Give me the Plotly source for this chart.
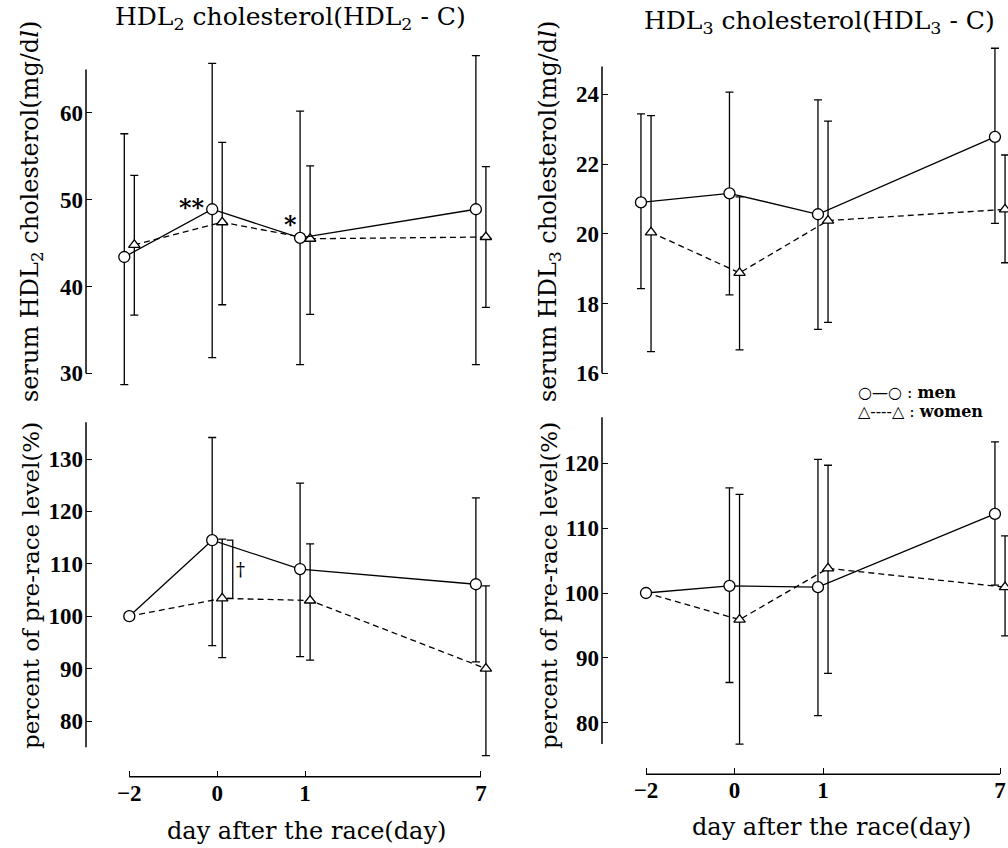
import plotly.graph_objects as go

# ---------------- data ----------------
day_labels = ["\u22122", "0", "1", "7"]      # tick labels (day after the race)
day_pos = [0, 1, 2, 4]                       # category positions on the axis (day 7 spaced wider)

# HDL2 cholesterol (mg/dl): mean, upper and lower error
hdl2_men = [43.4, 48.9, 45.6, 48.9]
hdl2_men_up = [14.2, 16.8, 14.6, 17.7]
hdl2_men_dn = [14.7, 17.1, 14.6, 17.9]
hdl2_women = [44.8, 47.4, 45.5, 45.7]
hdl2_women_up = [8.0, 9.2, 8.4, 8.1]
hdl2_women_dn = [8.1, 9.5, 8.7, 8.1]

# HDL3 cholesterol (mg/dl)
hdl3_men = [20.90, 21.16, 20.56, 22.78]
hdl3_men_up = [2.54, 2.90, 3.28, 2.54]
hdl3_men_dn = [2.47, 2.91, 3.30, 2.48]
hdl3_women = [20.04, 18.88, 20.38, 20.70]
hdl3_women_up = [3.35, 2.18, 2.85, 1.56]
hdl3_women_dn = [3.42, 2.21, 2.92, 1.53]

# percent of pre-race level, HDL2-C
pct2_men = [100, 114.5, 109.0, 106.1]
pct2_men_up = [None, 19.6, 16.4, 16.5]
pct2_men_dn = [None, 20.1, 16.7, 14.8]
pct2_women = [100, 103.4, 103.0, 90.0]
pct2_women_up = [None, 11.3, 10.8, 15.8]
pct2_women_dn = [None, 11.3, 11.4, 16.6]

# percent of pre-race level, HDL3-C
pct3_men = [100, 101.1, 100.9, 112.2]
pct3_men_up = [None, 15.1, 19.7, 11.1]
pct3_men_dn = [None, 14.9, 19.8, 11.0]
pct3_women = [100, 95.9, 103.8, 100.9]
pct3_women_up = [None, 19.3, 15.9, 7.9]
pct3_women_dn = [None, 19.2, 16.2, 7.5]

# axis extents (drawn spine) and ticks
hdl2_axis = (30, 65); hdl2_ticks = [30, 40, 50, 60]
hdl3_axis = (16, 24.8); hdl3_ticks = [16, 18, 20, 22, 24]
pct2_axis = (75, 137); pct2_ticks = [80, 90, 100, 110, 120, 130]
pct3_axis = (76.7, 127.1); pct3_ticks = [80, 90, 100, 110, 120]

# ---------------- layout helpers ----------------
W, H = 1008, 848
SERIF = "DejaVu Serif"
TICKFONT = dict(family="Liberation Serif", size=23, color="black", weight="bold")


def px_x(p):
    return p / W


def px_y(p):
    return 1 - p / H


def lin_range(v_a, p_a, v_b, p_b, p_lo, p_hi):
    """value range for a domain spanning pixels p_lo..p_hi, given two (value, pixel) anchors"""
    k = (v_b - v_a) / (p_b - p_a)
    return [v_a + (p_lo - p_a) * k, v_a + (p_hi - p_a) * k]


fig = go.Figure()

M_OFF, W_OFF = -0.057, 0.057

panels = [
    ("x", "y", hdl2_men, hdl2_men_up, hdl2_men_dn, hdl2_women, hdl2_women_up, hdl2_women_dn, False),
    ("x2", "y2", pct2_men, pct2_men_up, pct2_men_dn, pct2_women, pct2_women_up, pct2_women_dn, True),
    ("x3", "y3", hdl3_men, hdl3_men_up, hdl3_men_dn, hdl3_women, hdl3_women_up, hdl3_women_dn, False),
    ("x4", "y4", pct3_men, pct3_men_up, pct3_men_dn, pct3_women, pct3_women_up, pct3_women_dn, True),
]

for xa, ya, m, mu, md, wv, wu, wd, base in panels:
    xm = [p + (0 if (base and i == 0) else M_OFF) for i, p in enumerate(day_pos)]
    xw = [p + (0 if (base and i == 0) else W_OFF) for i, p in enumerate(day_pos)]
    wsym = ["circle" if (base and i == 0) else "triangle-up" for i in range(len(day_pos))]
    fig.add_trace(go.Scatter(
        x=xw, y=wv, xaxis=xa, yaxis=ya, mode="lines+markers", showlegend=False,
        line=dict(color="black", width=1.3, dash="6px,4px"),
        marker=dict(symbol=wsym, size=10, color="white", line=dict(color="black", width=1.3)),
        error_y=dict(type="data", symmetric=False, array=wu, arrayminus=wd,
                     color="black", thickness=1.3, width=4),
    ))
    fig.add_trace(go.Scatter(
        x=xm, y=m, xaxis=xa, yaxis=ya, mode="lines+markers", showlegend=False,
        line=dict(color="black", width=1.3),
        marker=dict(symbol="circle", size=11, color="white", line=dict(color="black", width=1.3)),
        error_y=dict(type="data", symmetric=False, array=mu, arrayminus=md,
                     color="black", thickness=1.3, width=4),
    ))

# pixel geometry of the panels
L_YAX, R_YAX = 86, 602
L_X0, L_XK = 129.3, 87.9     # pixel of day -2 and pixels per position (left)
R_X0, R_XK = 646.0, 88.5     # right
TOP_DOM = (35, 395)
BOT_DOM = (415, 765)
L_XAX_Y, R_XAX_Y = 776.7, 774.3

lx_range = lin_range(0, L_X0, 1, L_X0 + L_XK, L_YAX, 510)
rx_range = lin_range(0, R_X0, 1, R_X0 + R_XK, R_YAX, 1008)

tl_yr = lin_range(60, 112.9, 30, 373.3, TOP_DOM[1], TOP_DOM[0])
bl_yr = lin_range(130, 459.0, 80, 721.0, BOT_DOM[1], BOT_DOM[0])
tr_yr = lin_range(24, 94.3, 16, 373.3, TOP_DOM[1], TOP_DOM[0])
br_yr = lin_range(120, 463.3, 80, 722.7, BOT_DOM[1], BOT_DOM[0])


def xdict(rng, dom, visible_axis=False, pos=None, anchor=None):
    d = dict(range=rng, domain=[px_x(dom[0]), px_x(dom[1])], showgrid=False, zeroline=False,
             showline=False, fixedrange=True)
    if visible_axis:
        d.update(tickmode="array", tickvals=day_pos, ticktext=day_labels, ticks="inside",
                 ticklen=6, tickwidth=1.3, tickcolor="black", tickfont=TICKFONT,
                 anchor="free", position=px_y(pos), showticklabels=True)
    else:
        d.update(showticklabels=False, ticks="", anchor=anchor)
    return d


def ydict(rng, dom, ticks, anchor):
    return dict(range=rng, domain=[px_y(dom[1]), px_y(dom[0])], showgrid=False, zeroline=False,
                showline=False, tickmode="array", tickvals=ticks, ticks="inside", ticklen=6,
                tickwidth=1.3, tickcolor="black", tickfont=TICKFONT, anchor=anchor,
                fixedrange=True, ticklabelstandoff=2)


fig.update_layout(
    width=W, height=H, margin=dict(l=0, r=0, t=0, b=0),
    paper_bgcolor="white", plot_bgcolor="rgba(0,0,0,0)",
    xaxis=xdict(lx_range, (L_YAX, 510), anchor="y"),
    yaxis=ydict(tl_yr, TOP_DOM, hdl2_ticks, "x"),
    xaxis2=xdict(lx_range, (L_YAX, 510), True, L_XAX_Y),
    yaxis2=ydict(bl_yr, BOT_DOM, pct2_ticks, "x2"),
    xaxis3=xdict(rx_range, (R_YAX, 1008), anchor="y3"),
    yaxis3=ydict(tr_yr, TOP_DOM, hdl3_ticks, "x3"),
    xaxis4=xdict(rx_range, (R_YAX, 1008), True, R_XAX_Y),
    yaxis4=ydict(br_yr, BOT_DOM, pct3_ticks, "x4"),
    font=dict(family=SERIF, color="black"),
)

LINE = dict(color="black", width=1.5)
shapes = []
# y-axis spines limited to their drawn extents
for yref, xpx, ext in [("y", L_YAX, hdl2_axis), ("y2", L_YAX, pct2_axis),
                       ("y3", R_YAX, hdl3_axis), ("y4", R_YAX, pct3_axis)]:
    shapes.append(dict(type="line", xref="paper", yref=yref, x0=px_x(xpx), x1=px_x(xpx),
                       y0=ext[0], y1=ext[1], line=LINE))
# x-axis spines from first to last day
for xref, ypx in [("x2", L_XAX_Y), ("x4", R_XAX_Y)]:
    shapes.append(dict(type="line", xref=xref, yref="paper", x0=day_pos[0], x1=day_pos[-1],
                       y0=px_y(ypx), y1=px_y(ypx), line=LINE))
# significance bracket between men and women on day 0 (percent HDL2)
bx_in = day_pos[1] + W_OFF + 0.05
bx_out = day_pos[1] + W_OFF + 0.12
shapes.append(dict(type="path", xref="x2", yref="y2",
                   path=f"M {bx_in},{pct2_men[1]} L {bx_out},{pct2_men[1]} "
                        f"L {bx_out},{pct2_women[1]} L {bx_in},{pct2_women[1]}",
                   line=dict(color="black", width=1.3)))
fig.update_layout(shapes=shapes)


def label(text, xp, yp, size, angle=0, xanchor="center", weight="normal"):
    return dict(text=text, x=px_x(xp), y=px_y(yp), xref="paper", yref="paper", showarrow=False,
                xanchor=xanchor, yanchor="middle", textangle=angle,
                font=dict(size=size, family=SERIF, weight=weight))


ann = []
# panel titles
ann.append(label("HDL<sub>2</sub> cholesterol(HDL<sub>2</sub> - C)", 290, 18, 25))
ann.append(label("HDL<sub>3</sub> cholesterol(HDL<sub>3</sub> - C)", 819, 22, 25))
# y titles (two parts each, read as one vertical line)
for xp, n in [(31, 2), (549, 3)]:
    ann.append(label("percent of pre-race level(%)", xp, 586, 23, angle=-90))
    ann.append(label(f"serum HDL<sub>{n}</sub> cholesterol(mg/d<i>l</i>)", xp, 212, 24, angle=-90))
# x titles
ann.append(label("day after the race(day)", 306, 831, 24))
ann.append(label("day after the race(day)", 831, 827, 24))
# significance marks
ann.append(dict(text="**", x=day_pos[1] + M_OFF, y=hdl2_men[1], xref="x", yref="y",
                xanchor="center", yanchor="middle", xshift=-20, yshift=2, showarrow=False,
                font=dict(size=24, family=SERIF, weight="bold")))
ann.append(dict(text="*", x=day_pos[2] + M_OFF, y=hdl2_men[2], xref="x", yref="y",
                xanchor="center", yanchor="middle", xshift=-10, yshift=13, showarrow=False,
                font=dict(size=24, family=SERIF, weight="bold")))
ann.append(dict(text="\u2020", x=bx_out, y=(pct2_men[1] + pct2_women[1]) / 2, xref="x2", yref="y2",
                xanchor="center", yanchor="middle", xshift=8, showarrow=False,
                font=dict(size=18, family=SERIF)))
# legend
ann.append(label("\u25cb\u2014\u25cb : <b>men</b>", 856, 392, 16, xanchor="left"))
ann.append(label("\u25b3----\u25b3 : <b>women</b>", 856, 411, 16, xanchor="left"))
fig.update_layout(annotations=ann)

fig.write_html("out.html", config={"displayModeBar": False},
               post_script="document.body.style.margin='0';")
